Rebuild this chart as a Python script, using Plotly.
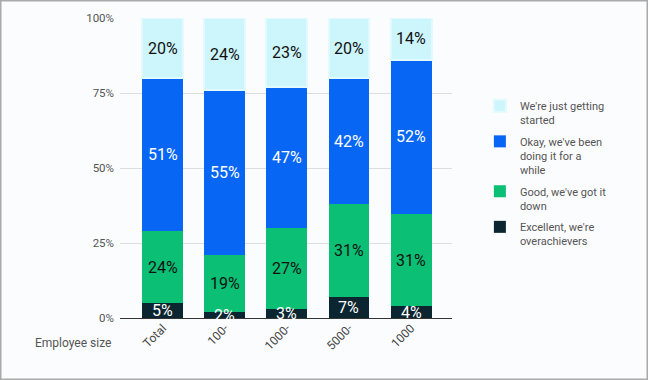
import plotly.graph_objects as go

categories = ["Total", "100-", "1000-", "5000-", "1000"]
excellent = [5, 2, 3, 7, 4]
good = [24, 19, 27, 31, 31]
okay = [51, 55, 47, 42, 52]
started = [20, 24, 23, 20, 14]

names = ["Excellent, we're<br>overachievers", "Good, we've got it<br>down",
         "Okay, we've been<br>doing it for a<br>while", "We're just getting<br>started"]
series = [excellent, good, okay, started]
colors = ["#0b2631", "#0bbf74", "#0866f5", "#cdf5fc"]
line_colors = ["#0b2631", "#0bbf74", "#0866f5", "#e2f9fd"]
text_colors = ["#ffffff", "#111111", "#ffffff", "#111111"]

fig = go.Figure()
for i, (name, vals, col, lc) in enumerate(zip(names, series, colors, line_colors)):
    fig.add_trace(go.Bar(
        x=categories, y=vals, name=name, legendgroup=f"g{i}", legendrank=10 - i,
        marker=dict(color=col, line=dict(width=2 if i == 3 else 0, color=lc)),
        width=0.66, hoverinfo="skip",
    ))

# segment labels placed at the middle of each (percent-normalised) stacked segment
totals = [sum(s[j] for s in series) for j in range(len(categories))]
annotations = []
base = [0.0] * len(categories)
for vals, tc in zip(series, text_colors):
    for j, v in enumerate(vals):
        h = v * 100.0 / totals[j]
        annotations.append(dict(x=j, y=base[j] + h / 2,
                                xref="x", yref="y", text=f"{v}%", showarrow=False,
                                font=dict(size=16, color=tc, family="Roboto")))
        base[j] += h

annotations.append(dict(text="Employee size", xref="paper", yref="paper",
                        x=-0.02, y=-0.083, xanchor="right", yanchor="middle",
                        showarrow=False, font=dict(size=12, color="#555")))

fig.update_layout(
    barmode="stack", barnorm="percent",
    width=648, height=380,
    margin=dict(l=120, r=196, t=18, b=62),
    paper_bgcolor="#fbfcfd", plot_bgcolor="#fbfcfd",
    font=dict(family="Roboto", color="#555"),
    showlegend=True,
    legend=dict(traceorder="grouped", x=1.084, y=0.753, yanchor="top",
                font=dict(size=11, color="#555"), tracegroupgap=4, valign="top",
                itemwidth=30, bgcolor="rgba(0,0,0,0)"),
    xaxis=dict(range=[-0.69, 4.66], tickangle=-45, tickfont=dict(size=12, color="#444"),
               showgrid=False, ticks="", showline=False),
    yaxis=dict(range=[0, 100], tickvals=[0, 25, 50, 75, 100],
               ticktext=["0%", "25%", "50%", "75%", "100%"],
               tickfont=dict(size=11.5, color="#555"), gridcolor="#dedede",
               ticklabelstandoff=5,
               zeroline=True, zerolinecolor="#333", zerolinewidth=1.2, ticks=""),
    annotations=annotations,
    shapes=[dict(type="rect", xref="paper", yref="paper", x0=-0.3614, x1=1.5904,
                 y0=-0.2067, y1=1.06, line=dict(color="#aaa", width=3))],
)
fig.write_html("out.html", config={"displayModeBar": False},
               post_script="document.body.style.margin='0';")
